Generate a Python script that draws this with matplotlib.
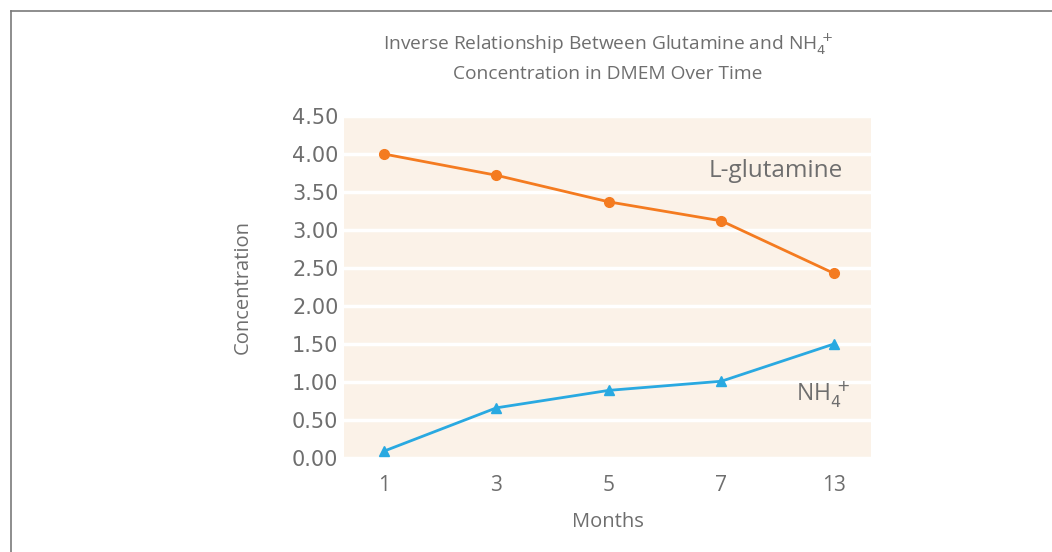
import matplotlib
matplotlib.use("Agg")
import matplotlib.pyplot as plt
from matplotlib.lines import Line2D

months = ["1", "3", "5", "7", "13"]
glutamine = [4.00, 3.72, 3.37, 3.12, 2.43]
ammonium = [0.09, 0.66, 0.89, 1.01, 1.50]
yticks = [0.0, 0.5, 1.0, 1.5, 2.0, 2.5, 3.0, 3.5, 4.0, 4.5]

TXT = "#6e6e6e"
ORANGE = "#f47b20"
BLUE = "#29a9e1"
BG = "#fbf2e8"

plt.rcParams['font.family'] = ['Open Sans', 'DejaVu Sans']

fig = plt.figure(figsize=(10.52, 5.52), dpi=100)
ax = fig.add_axes([344/1052, 1-458/552, (871-344)/1052, (458-116)/552])
ax.set_facecolor(BG)

x = list(range(len(months)))
ax.plot(x, glutamine, color=ORANGE, lw=2, marker='o', ms=7, zorder=3, clip_on=False)
ax.plot(x, ammonium, color=BLUE, lw=2, marker='^', ms=7, zorder=3, clip_on=False)

ax.set_xlim(-0.355, 4.33)
ax.set_ylim(0, 4.5)
ax.set_yticks(yticks)
ax.set_yticklabels([f"{v:.2f}" for v in yticks], fontsize=15, color=TXT, family='DejaVu Sans')
ax.set_xticks(x)
ax.set_xticklabels(months, fontsize=15, color=TXT)
ax.grid(axis='y', color='white', lw=2.5)
ax.set_axisbelow(True)
for s in ax.spines.values():
    s.set_visible(False)
ax.tick_params(length=0)
ax.tick_params(axis='x', pad=12)
ax.tick_params(axis='y', pad=4)

ax.set_xlabel("Months", fontsize=14.5, color=TXT, labelpad=12)
ax.set_ylabel("Concentration", fontsize=14.5, color=TXT, labelpad=28)

ax.text(3.48, 3.77, "L-glutamine", fontsize=17.5, color=TXT, ha='center', va='center')
ax.text(3.9, 0.83, r"NH$_4^{\,+}$", fontsize=16.5, color=TXT, ha='center', va='center')

fig.text(608/1052, 1-44/552, r"Inverse Relationship Between Glutamine and NH$_4^{\,+}$",
         fontsize=13.8, color=TXT, ha='center', va='center')
fig.text(608/1052, 1-74/552, "Concentration in DMEM Over Time",
         fontsize=13.8, color=TXT, ha='center', va='center')

# frame lines (left and top)
fig.add_artist(Line2D([10.5/1052, 10.5/1052], [0, 1-11/552], color='#7a7a7a', lw=1.2, transform=fig.transFigure))
fig.add_artist(Line2D([10.5/1052, 1], [1-11/552, 1-11/552], color='#7a7a7a', lw=1.2, transform=fig.transFigure))

fig.savefig("out.png", dpi=100, facecolor='white')
